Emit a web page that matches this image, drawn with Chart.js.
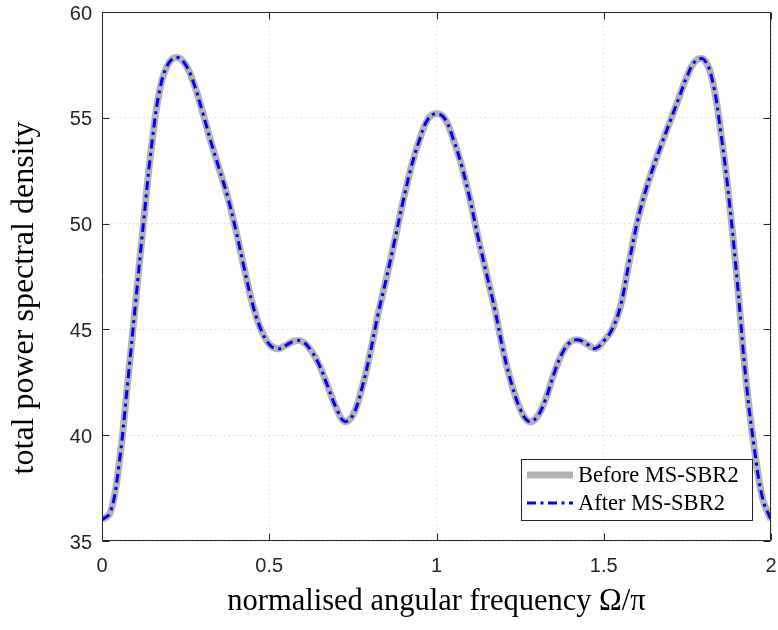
<!DOCTYPE html>
<html>
<head>
<meta charset="utf-8">
<script src="https://cdn.jsdelivr.net/npm/chart.js@4.4.1/dist/chart.umd.min.js"></script>
<style>
  html, body { margin: 0; padding: 0; background: #fff; }
  #wrap { width: 778px; height: 630px; }
</style>
</head>
<body>
<div id="wrap"><canvas id="grafico" width="778" height="630"></canvas></div>
<script>
// normalised angular frequency (Omega/pi)
var frecuencias = [
  0.000, 0.025, 0.050, 0.075, 0.100, 0.125, 0.150, 0.175, 0.200, 0.225,
  0.250, 0.275, 0.300, 0.325, 0.350, 0.375, 0.400, 0.425, 0.450, 0.475,
  0.500, 0.525, 0.550, 0.575, 0.600, 0.625, 0.650, 0.675, 0.700, 0.725,
  0.750, 0.775, 0.800, 0.825, 0.850, 0.875, 0.900, 0.925, 0.950, 0.975,
  1.000, 1.025, 1.050, 1.075, 1.100, 1.125, 1.150, 1.175, 1.200, 1.225,
  1.250, 1.275, 1.300, 1.325, 1.350, 1.375, 1.400, 1.425, 1.450, 1.475,
  1.500, 1.525, 1.550, 1.575, 1.600, 1.625, 1.650, 1.675, 1.700, 1.725,
  1.750, 1.775, 1.800, 1.825, 1.850, 1.875, 1.900, 1.925, 1.950, 1.975,
  2.000
];

// total PSD before MS-SBR2
var antes = [
  36.0, 36.35, 38.5, 42.2, 46.2, 50.2, 53.9, 56.5, 57.6, 57.85,
  57.5, 56.6, 55.3, 53.9, 52.6, 51.3, 49.7, 47.9, 46.2, 45.0,
  44.3, 44.08, 44.25, 44.45, 44.42, 44.0, 43.3, 42.3, 41.3, 40.65,
  40.95, 42.1, 43.75, 45.7, 47.4, 49.2, 51.05, 52.7, 54.0, 54.95,
  55.2, 54.95, 54.0, 52.75, 51.15, 49.3, 47.6, 45.9, 43.95, 42.4,
  41.25, 40.65, 40.85, 41.65, 42.85, 43.85, 44.4, 44.5, 44.3, 44.1,
  44.45, 45.0, 46.1, 48.1, 50.05, 51.55, 52.75, 53.85, 54.9, 55.95,
  57.0, 57.7, 57.75, 56.75, 54.3, 51.1, 47.1, 42.65, 39.4, 37.0,
  36.0
];

// total PSD after MS-SBR2 (overlaps the first curve)
var despues = [
  36.0, 36.35, 38.5, 42.2, 46.2, 50.2, 53.9, 56.5, 57.6, 57.85,
  57.5, 56.6, 55.3, 53.9, 52.6, 51.3, 49.7, 47.9, 46.2, 45.0,
  44.3, 44.08, 44.25, 44.45, 44.42, 44.0, 43.3, 42.3, 41.3, 40.65,
  40.95, 42.1, 43.75, 45.7, 47.4, 49.2, 51.05, 52.7, 54.0, 54.95,
  55.2, 54.95, 54.0, 52.75, 51.15, 49.3, 47.6, 45.9, 43.95, 42.4,
  41.25, 40.65, 40.85, 41.65, 42.85, 43.85, 44.4, 44.5, 44.3, 44.1,
  44.45, 45.0, 46.1, 48.1, 50.05, 51.55, 52.75, 53.85, 54.9, 55.95,
  57.0, 57.7, 57.75, 56.75, 54.3, 51.1, 47.1, 42.65, 39.4, 37.0,
  36.0
];

var etiquetas = ['Before MS-SBR2', 'After MS-SBR2'];
var ticksX = [0, 0.5, 1, 1.5, 2];
var etiquetasX = ['0', '0.5', '1', '1.5', '2'];
var ticksY = [35, 40, 45, 50, 55, 60];
var tituloY = 'total power spectral density';

function puntos(ys) {
    return frecuencias.map(function (x, i) { return { x: x, y: ys[i] }; });
}

var colorEjes = '#262626';
var serif = '"Liberation Serif", "Times New Roman", serif';

// box, inward ticks, y label and the legend inside the axes
var marco = {
    id: 'marco',
    afterDraw: function (chart) {
        var ctx = chart.ctx;
        var a = chart.chartArea;
        var sx = chart.scales.x, sy = chart.scales.y;
        var L = Math.round(a.left) + 0.5, R = Math.round(a.right) - 0.5;
        var T = Math.round(a.top) + 0.5, B = Math.round(a.bottom) - 0.5;
        var tl = 7;
        ctx.save();
        ctx.strokeStyle = colorEjes;
        ctx.lineWidth = 1;
        ctx.beginPath();
        ctx.rect(L, T, R - L, B - T);
        ticksX.forEach(function (v) {
            var p = Math.round(sx.getPixelForValue(v)) + 0.5;
            ctx.moveTo(p, B); ctx.lineTo(p, B - tl);
            ctx.moveTo(p, T); ctx.lineTo(p, T + tl);
        });
        ticksY.forEach(function (v) {
            var p = Math.round(sy.getPixelForValue(v)) + 0.5;
            ctx.moveTo(L, p); ctx.lineTo(L + tl, p);
            ctx.moveTo(R, p); ctx.lineTo(R - tl, p);
        });
        ctx.stroke();

        // y label
        ctx.save();
        ctx.translate(25, 298);
        ctx.rotate(-Math.PI / 2);
        ctx.fillStyle = '#000';
        ctx.font = '32px ' + serif;
        ctx.textAlign = 'center';
        ctx.textBaseline = 'middle';
        ctx.fillText(tituloY, 0, 0);
        ctx.restore();

        // legend
        var bx = 521.5, by = 459.5, bw = 231, bh = 61;
        ctx.fillStyle = '#fff';
        ctx.fillRect(bx, by, bw, bh);
        ctx.strokeStyle = colorEjes;
        ctx.strokeRect(bx, by, bw, bh);
        var filas = [475, 503];
        chart.data.datasets.forEach(function (ds, i) {
            ctx.save();
            ctx.strokeStyle = ds.borderColor;
            ctx.lineWidth = ds.borderWidth;
            ctx.setLineDash(ds.borderDash || []);
            ctx.beginPath();
            ctx.moveTo(527, filas[i]);
            ctx.lineTo(573, filas[i]);
            ctx.stroke();
            ctx.restore();
            ctx.fillStyle = '#000';
            ctx.font = '22.5px ' + serif;
            ctx.textBaseline = 'middle';
            ctx.textAlign = 'left';
            ctx.fillText(ds.label, 578, filas[i] + 1);
        });
        ctx.restore();
    }
};

var ctx = document.getElementById('grafico').getContext('2d');
var grafico = new Chart(ctx, {
    type: 'line',
    data: {
        datasets: [{
            label: etiquetas[0],
            data: puntos(antes),
            borderColor: '#b3b3b3',
            borderWidth: 7,
            pointRadius: 0,
            fill: false,
            tension: 0.4,
            order: 2
        }, {
            label: etiquetas[1],
            data: puntos(despues),
            borderColor: '#0000ff',
            borderWidth: 3,
            borderDash: [9, 4.5, 3, 4.5],
            pointRadius: 0,
            fill: false,
            tension: 0.4,
            order: 1
        }]
    },
    options: {
        responsive: false,
        animation: false,
        layout: { padding: { top: 12, right: 7, left: 0, bottom: 0 } },
        plugins: {
            legend: { display: false },
            tooltip: { enabled: false }
        },
        scales: {
            x: {
                type: 'linear',
                min: 0,
                max: 2,
                afterFit: function (s) {
                    s.height = 89;
                    s.paddingLeft = 0;
                    s.paddingRight = 0;
                },
                afterBuildTicks: function (s) {
                    s.ticks = ticksX.map(function (v) { return { value: v }; });
                },
                ticks: {
                    autoSkip: false,
                    maxRotation: 0,
                    padding: 13,
                    color: colorEjes,
                    font: { family: '"Liberation Sans", Arial, sans-serif', size: 20 },
                    callback: function (v) {
                        var i = ticksX.indexOf(v);
                        return i >= 0 ? etiquetasX[i] : '';
                    }
                },
                grid: { color: '#dcdcdc', lineWidth: 1, drawTicks: false },
                border: { display: false, dash: [1.5, 3] },
                title: {
                    display: true,
                    text: 'normalised angular frequency Ω/π',
                    color: '#000',
                    font: { family: serif, size: 30.5 },
                    padding: { top: 0, bottom: 10 }
                }
            },
            y: {
                type: 'linear',
                min: 35,
                max: 60,
                afterFit: function (s) {
                    s.width = 102;
                    s.paddingTop = 0;
                    s.paddingBottom = 0;
                },
                afterBuildTicks: function (s) {
                    s.ticks = ticksY.map(function (v) { return { value: v }; });
                },
                ticks: {
                    padding: 10,
                    labelOffset: 2,
                    color: colorEjes,
                    font: { family: '"Liberation Sans", Arial, sans-serif', size: 20 }
                },
                grid: { color: '#dcdcdc', lineWidth: 1, drawTicks: false },
                border: { display: false, dash: [1.5, 3] }
            }
        }
    },
    plugins: [marco]
});
</script>
</body>
</html>
